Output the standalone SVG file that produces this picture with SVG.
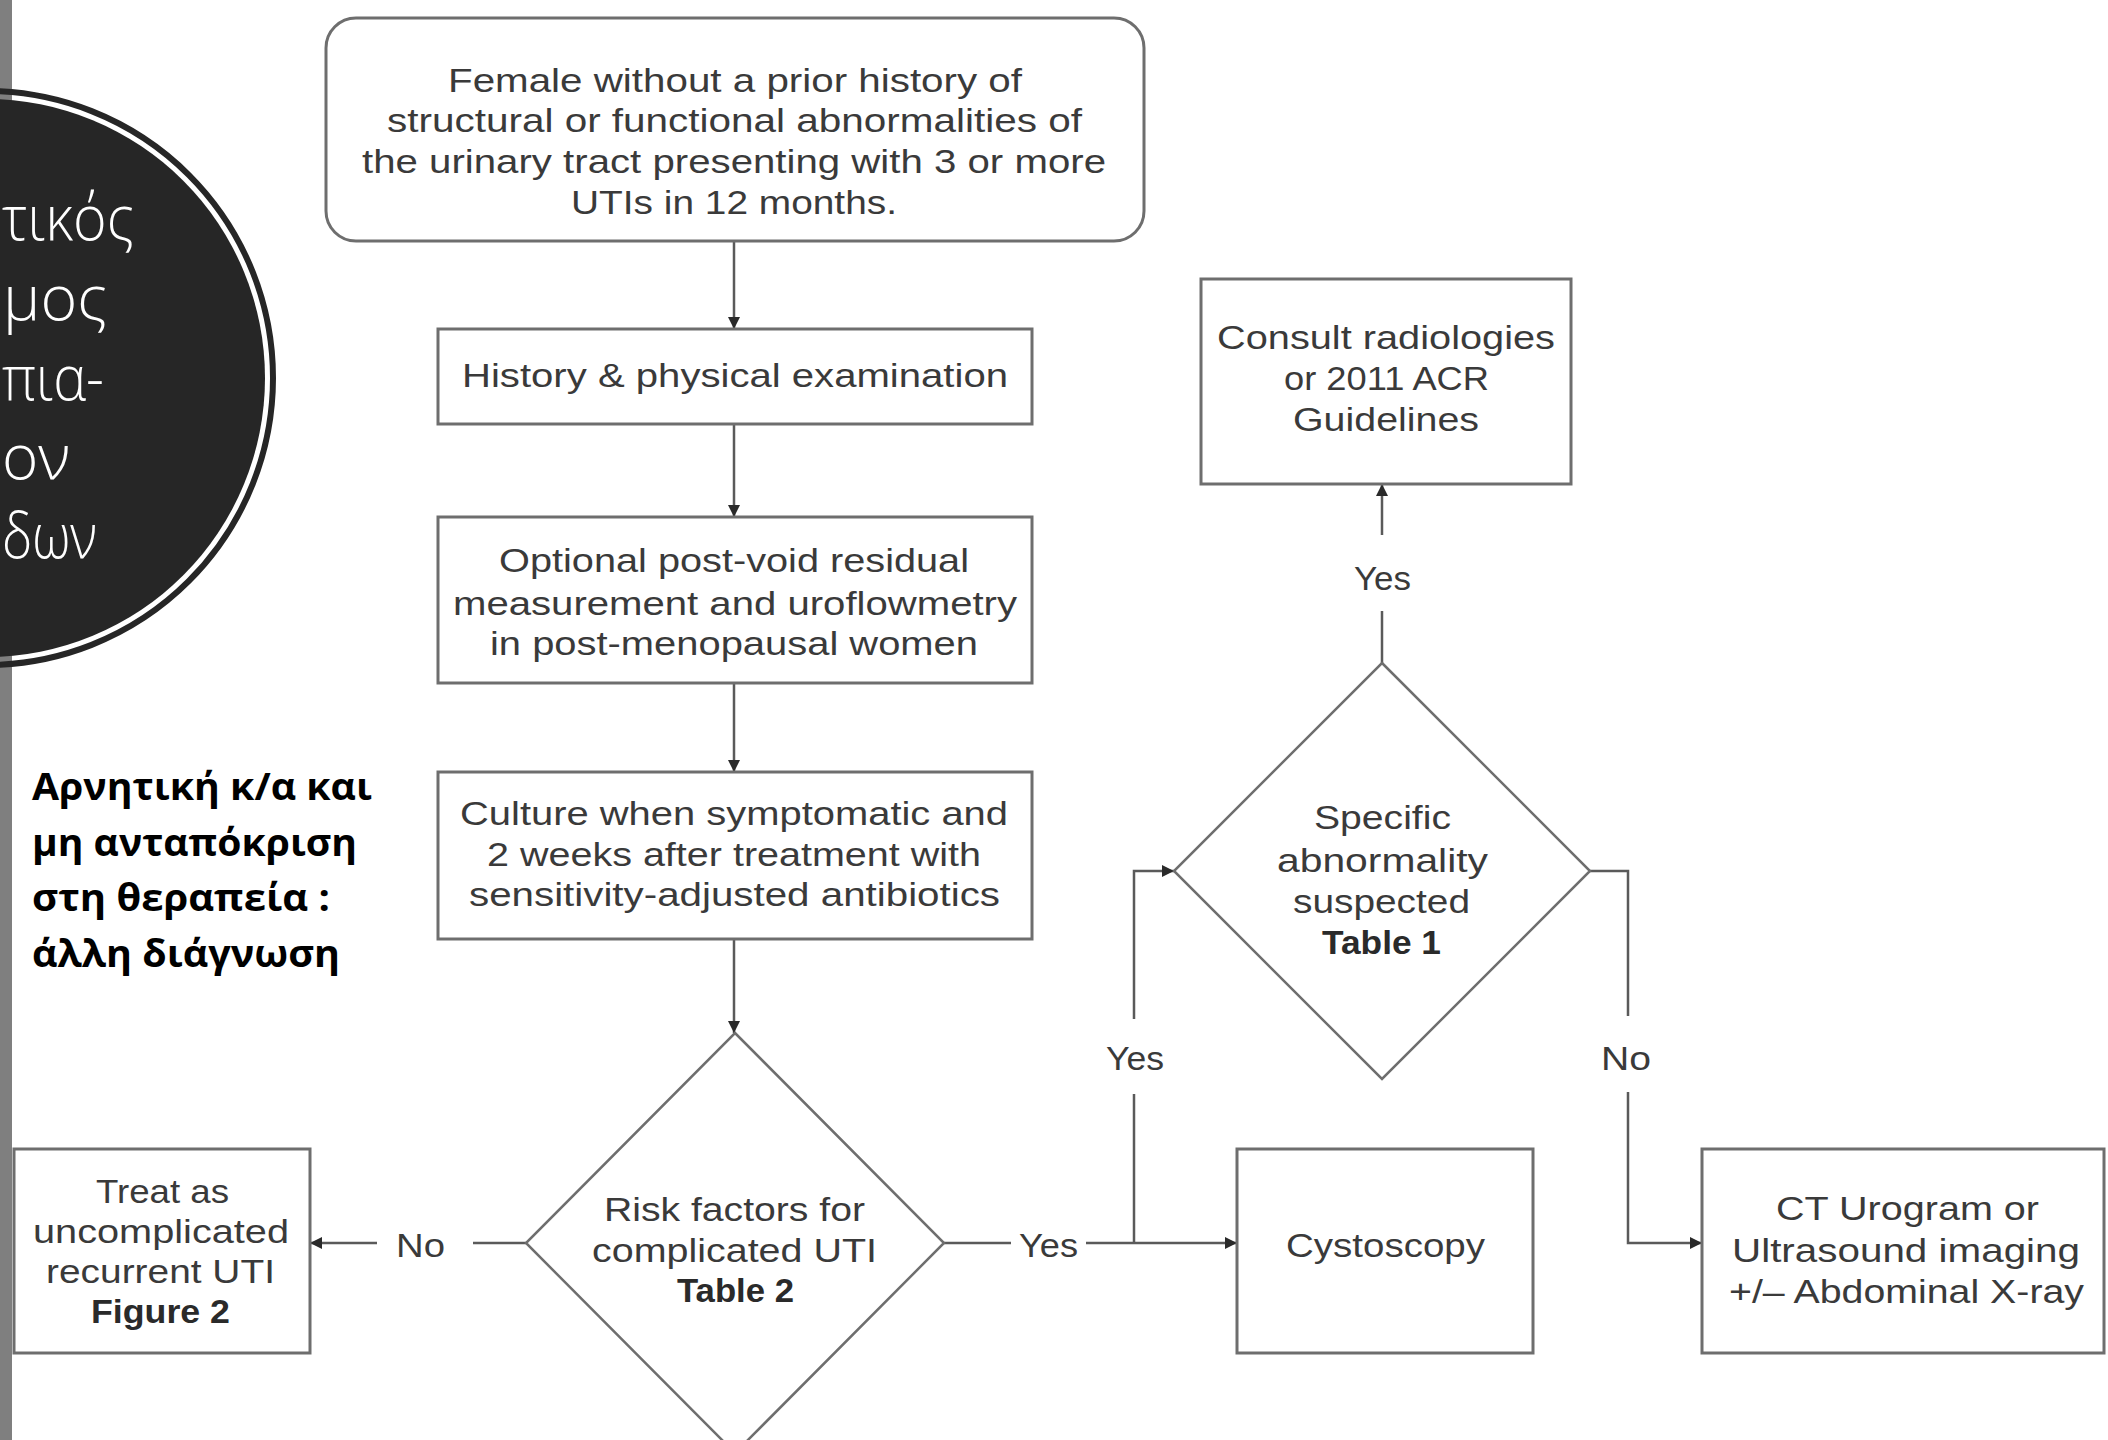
<svg xmlns="http://www.w3.org/2000/svg" width="2108" height="1440" viewBox="0 0 2108 1440">
<defs>
<style>
.box{fill:#ffffff;stroke:#6e6e6e;stroke-width:3}
.dia{fill:#ffffff;stroke:#6e6e6e;stroke-width:2.5}
.ln{fill:none;stroke:#5a5a5a;stroke-width:2.5}
.t{font-family:"Liberation Sans",Arial,sans-serif;font-size:33px;fill:#3a3a3a}
.b{font-weight:bold;fill:#2a2a2a}
.gr{font-family:"Open Sans","Noto Sans",sans-serif;font-size:38px;font-weight:700;fill:#000000}
.ct{font-family:"Open Sans","Noto Sans",sans-serif;font-size:62px;font-weight:300;fill:#ffffff}
</style>
<marker id="ah" viewBox="0 0 10 10" refX="10" refY="5" markerWidth="13" markerHeight="12" markerUnits="userSpaceOnUse" orient="auto">
<path d="M0,0 L10,5 L0,10 z" fill="#2a2a2a"/>
</marker>
</defs>
<rect x="0" y="0" width="2108" height="1440" fill="#ffffff"/>
<rect x="0" y="0" width="12" height="1440" fill="#7f7f7f"/>
<g id="title-circle">
<circle cx="-14" cy="378" r="287" fill="none" stroke="#262626" stroke-width="6"/>
<circle cx="-14" cy="378" r="279" fill="#262626"/>
<text class="ct" x="2" y="240" textLength="132" lengthAdjust="spacingAndGlyphs">τικός</text>
<text class="ct" x="3" y="320" textLength="104" lengthAdjust="spacingAndGlyphs">μος</text>
<text class="ct" x="2" y="400" textLength="102" lengthAdjust="spacingAndGlyphs">πια-</text>
<text class="ct" x="2" y="479">ον</text>
<text class="ct" x="2" y="558" textLength="95" lengthAdjust="spacingAndGlyphs">δων</text>
</g>
<g id="note">
<text class="gr" x="32" y="800" textLength="340" lengthAdjust="spacingAndGlyphs">Αρνητική κ/α και</text>
<text class="gr" x="32" y="855.5" textLength="325" lengthAdjust="spacingAndGlyphs">μη ανταπόκριση</text>
<text class="gr" x="32" y="911" textLength="298" lengthAdjust="spacingAndGlyphs">στη θεραπεία :</text>
<text class="gr" x="32" y="966.5" textLength="308" lengthAdjust="spacingAndGlyphs">άλλη διάγνωση</text>
</g>
<g id="connectors">
<line class="ln" x1="734" y1="242" x2="734" y2="329" marker-end="url(#ah)"/>
<line class="ln" x1="734" y1="424" x2="734" y2="517" marker-end="url(#ah)"/>
<line class="ln" x1="734" y1="683" x2="734" y2="772" marker-end="url(#ah)"/>
<line class="ln" x1="734" y1="939" x2="734" y2="1033" marker-end="url(#ah)"/>
<line class="ln" x1="526" y1="1243" x2="473" y2="1243"/>
<line class="ln" x1="377" y1="1243" x2="310" y2="1243" marker-end="url(#ah)"/>
<line class="ln" x1="944" y1="1243" x2="1011" y2="1243"/>
<line class="ln" x1="1086" y1="1243" x2="1237" y2="1243" marker-end="url(#ah)"/>
<line class="ln" x1="1134" y1="1243" x2="1134" y2="1094"/>
<polyline class="ln" points="1134,1019 1134,871 1174,871" marker-end="url(#ah)"/>
<line class="ln" x1="1382" y1="663" x2="1382" y2="611"/>
<line class="ln" x1="1382" y1="535" x2="1382" y2="484" marker-end="url(#ah)"/>
<polyline class="ln" points="1590,871 1628,871 1628,1016"/>
<polyline class="ln" points="1628,1092 1628,1243 1702,1243" marker-end="url(#ah)"/>
<text class="t" x="396" y="1257" textLength="49" lengthAdjust="spacingAndGlyphs">No</text>
<text class="t" x="1019" y="1257" textLength="59" lengthAdjust="spacingAndGlyphs">Yes</text>
<text class="t" x="1106" y="1070" textLength="58" lengthAdjust="spacingAndGlyphs">Yes</text>
<text class="t" x="1354" y="590" textLength="57" lengthAdjust="spacingAndGlyphs">Yes</text>
<text class="t" x="1601" y="1070" textLength="50" lengthAdjust="spacingAndGlyphs">No</text>
</g>
<g id="start">
<rect class="box" x="326" y="18" width="818" height="223" rx="30" ry="30"/>
<text class="t" x="448" y="92" textLength="574" lengthAdjust="spacingAndGlyphs">Female without a prior history of</text>
<text class="t" x="387" y="132" textLength="695" lengthAdjust="spacingAndGlyphs">structural or functional abnormalities of</text>
<text class="t" x="362" y="173" textLength="744" lengthAdjust="spacingAndGlyphs">the urinary tract presenting with 3 or more</text>
<text class="t" x="571" y="214" textLength="326" lengthAdjust="spacingAndGlyphs">UTIs in 12 months.</text>
</g>
<g id="history">
<rect class="box" x="438" y="329" width="594" height="95"/>
<text class="t" x="462" y="387" textLength="546" lengthAdjust="spacingAndGlyphs">History &amp; physical examination</text>
</g>
<g id="optional">
<rect class="box" x="438" y="517" width="594" height="166"/>
<text class="t" x="499" y="572" textLength="470" lengthAdjust="spacingAndGlyphs">Optional post-void residual</text>
<text class="t" x="453" y="615" textLength="564" lengthAdjust="spacingAndGlyphs">measurement and uroflowmetry</text>
<text class="t" x="490" y="655" textLength="488" lengthAdjust="spacingAndGlyphs">in post-menopausal women</text>
</g>
<g id="culture">
<rect class="box" x="438" y="772" width="594" height="167"/>
<text class="t" x="460" y="825" textLength="548" lengthAdjust="spacingAndGlyphs">Culture when symptomatic and</text>
<text class="t" x="487" y="866" textLength="494" lengthAdjust="spacingAndGlyphs">2 weeks after treatment with</text>
<text class="t" x="469" y="906" textLength="531" lengthAdjust="spacingAndGlyphs">sensitivity-adjusted antibiotics</text>
</g>
<g id="risk">
<polygon class="dia" points="735,1033 944,1243 735,1453 526,1243"/>
<text class="t" x="604" y="1221" textLength="261" lengthAdjust="spacingAndGlyphs">Risk factors for</text>
<text class="t" x="592" y="1262" textLength="285" lengthAdjust="spacingAndGlyphs">complicated UTI</text>
<text class="t b" x="677" y="1302" textLength="117" lengthAdjust="spacingAndGlyphs">Table 2</text>
</g>
<g id="treat">
<rect class="box" x="14" y="1149" width="296" height="204"/>
<text class="t" x="96" y="1203" textLength="133" lengthAdjust="spacingAndGlyphs">Treat as</text>
<text class="t" x="33" y="1243" textLength="256" lengthAdjust="spacingAndGlyphs">uncomplicated</text>
<text class="t" x="46" y="1283" textLength="229" lengthAdjust="spacingAndGlyphs">recurrent UTI</text>
<text class="t b" x="91" y="1323" textLength="139" lengthAdjust="spacingAndGlyphs">Figure 2</text>
</g>
<g id="cystoscopy">
<rect class="box" x="1237" y="1149" width="296" height="204"/>
<text class="t" x="1286" y="1257" textLength="199" lengthAdjust="spacingAndGlyphs">Cystoscopy</text>
</g>
<g id="specific">
<polygon class="dia" points="1382,663 1590,871 1382,1079 1174,871"/>
<text class="t" x="1314" y="829" textLength="137" lengthAdjust="spacingAndGlyphs">Specific</text>
<text class="t" x="1277" y="872" textLength="211" lengthAdjust="spacingAndGlyphs">abnormality</text>
<text class="t" x="1293" y="913" textLength="177" lengthAdjust="spacingAndGlyphs">suspected</text>
<text class="t b" x="1322" y="954" textLength="119" lengthAdjust="spacingAndGlyphs">Table 1</text>
</g>
<g id="consult">
<rect class="box" x="1201" y="279" width="370" height="205"/>
<text class="t" x="1217" y="349" textLength="338" lengthAdjust="spacingAndGlyphs">Consult radiologies</text>
<text class="t" x="1284" y="390" textLength="205" lengthAdjust="spacingAndGlyphs">or 2011 ACR</text>
<text class="t" x="1293" y="431" textLength="186" lengthAdjust="spacingAndGlyphs">Guidelines</text>
</g>
<g id="ct">
<rect class="box" x="1702" y="1149" width="402" height="204"/>
<text class="t" x="1776" y="1220" textLength="263" lengthAdjust="spacingAndGlyphs">CT Urogram or</text>
<text class="t" x="1732" y="1262" textLength="348" lengthAdjust="spacingAndGlyphs">Ultrasound imaging</text>
<text class="t" x="1729" y="1303" textLength="355" lengthAdjust="spacingAndGlyphs">+/– Abdominal X-ray</text>
</g>
</svg>
